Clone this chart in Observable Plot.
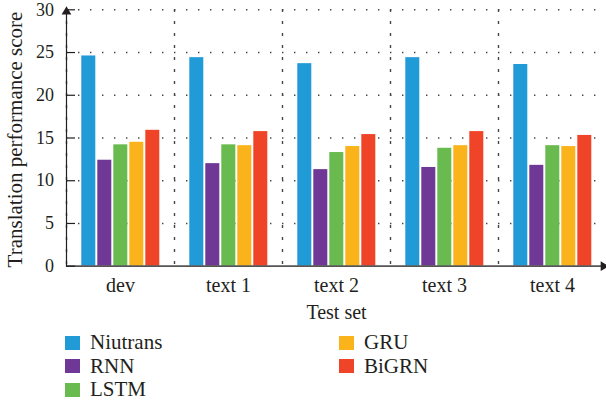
<!DOCTYPE html>
<html>
<head>
<meta charset="utf-8">
<script src="https://cdn.jsdelivr.net/npm/d3@7"></script>
<script src="https://cdn.jsdelivr.net/npm/@observablehq/plot@0.6"></script>
<style>
  body { margin: 0; background: #fff; font-family: "Liberation Serif", serif; color: #231f20; }
  #legend { display: grid; grid-auto-flow: column; grid-template-rows: repeat(3, 23.5px);
            grid-template-columns: 274px auto; padding-left: 65px; margin-top: 6px;
            font-family: "Liberation Serif", serif; font-size: 21px; color: #231f20; }
  .item { display: flex; align-items: center; }
  .sw { width: 15px; height: 14px; margin-right: 10px; }
</style>
</head>
<body>
<div id="chart"></div>
<div id="legend"></div>
<script>
const sets = ["dev", "text 1", "text 2", "text 3", "text 4"];
const models = ["Niutrans", "RNN", "LSTM", "GRU", "BiGRN"];
const colors = ["#219bd8", "#6f3896", "#69bb4f", "#fbb31c", "#ef4427"];
const niutrans = [24.6, 24.4, 23.7, 24.4, 23.6];
const rnn = [12.4, 12.0, 11.3, 11.55, 11.8];
const lstm = [14.2, 14.2, 13.3, 13.8, 14.1];
const gru = [14.5, 14.1, 14.0, 14.1, 14.0];
const bigrn = [15.9, 15.75, 15.4, 15.75, 15.3];
const yTicks = [0, 5, 10, 15, 20, 25, 30];
const yLabel = "Translation performance score";
const xLabel = "Test set";

const series = [niutrans, rnn, lstm, gru, bigrn];
const data = sets.flatMap((s, i) => models.map((m, j) => ({set: s, model: m, value: series[j][i]})));

const dotted = {stroke: "#444", strokeWidth: 1.4, strokeDasharray: "1.4,10.6"};

const chart = Plot.plot({
  width: 606,
  height: 325,
  marginLeft: 65.7,
  marginRight: 0,
  marginTop: 9.3,
  marginBottom: 59.3,
  style: {fontFamily: "'Liberation Serif', serif", fontSize: "19px", color: "#231f20", background: "#fff"},
  fx: {domain: sets, padding: 0},
  x: {domain: models, paddingInner: 0.12, paddingOuter: 0.8, axis: null},
  y: {domain: [0, 30], axis: null},
  color: {domain: models, range: colors},
  marks: [
    Plot.gridY(yTicks.slice(1), {...dotted, strokeOpacity: 1}),
    Plot.frame({anchor: "left", ...dotted}),
    Plot.barY(data, {fx: "set", x: "model", y: "value", fill: "model"}),
    Plot.ruleY([0], {stroke: "#555", strokeWidth: 1.8}),
    Plot.frame({anchor: "left", fx: ["dev"], stroke: "#231f20", strokeWidth: 1.2}),
    Plot.axisY(yTicks, {anchor: "left", tickSize: -9, tickPadding: 21.4, fontSize: 18,
      stroke: "#231f20", strokeWidth: 1.2, label: null}),
    Plot.text([yLabel], {fx: () => "dev", frameAnchor: "left", textAnchor: "middle", rotate: -90,
      dx: -51, dy: 1.5, text: d => d, fontSize: 21, fill: "#231f20"}),
    Plot.axisFx({anchor: "bottom", tickSize: 0, tickPadding: 12, fontSize: 20, label: null}),
    Plot.text([xLabel], {fx: () => "text 2", frameAnchor: "bottom", dy: 53, text: d => d, fontSize: 20, fill: "#231f20"}),
    Plot.dot(["dev"], {fx: d => d, frameAnchor: "top-left", symbol: "triangle", r: 3.6, fill: "#231f20", dy: 2}),
    Plot.dot(["text 4"], {fx: d => d, frameAnchor: "bottom-right", symbol: "triangle", rotate: 90, r: 3.6, fill: "#231f20", dx: -3})
  ]
});
document.getElementById("chart").appendChild(chart);

const legend = document.getElementById("legend");
models.forEach((m, i) => {
  const it = document.createElement("div");
  it.className = "item";
  it.innerHTML = `<span class="sw" style="background:${colors[i]}"></span><span>${m}</span>`;
  legend.appendChild(it);
});
</script>
</body>
</html>
